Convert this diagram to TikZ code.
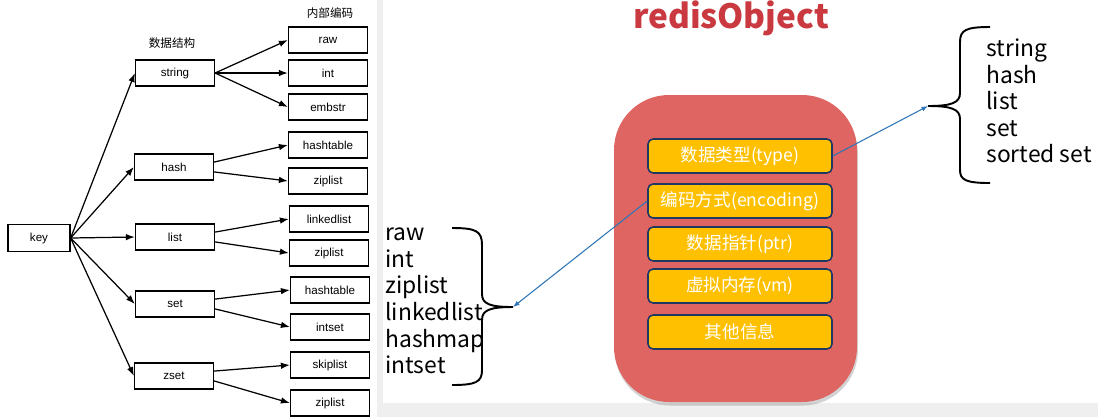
\documentclass[tikz,border=0pt]{standalone}
\usepackage{fontspec}
\setmainfont{Liberation Sans}
\newfontfamily\cjk{Noto Sans CJK SC}
\usepackage{xcolor}
\usepackage{tikz}
\usetikzlibrary{arrows.meta, shadows}

\definecolor{objred}{HTML}{DE6562}
\definecolor{titlered}{HTML}{C9393F}
\definecolor{fieldyel}{HTML}{FFC000}
\definecolor{fieldline}{HTML}{203864}
\definecolor{ptrblue}{HTML}{2E75B6}
\definecolor{edgegray}{HTML}{EFEFEF}

\tikzset{
    dsbox/.style={draw, line width=0.7pt, minimum width=1.58cm, minimum height=0.52cm, inner sep=0pt, font=\fontsize{6.6}{8}\selectfont},
    field/.style={draw=fieldline, fill=fieldyel, line width=0.9pt, rounded corners=0.1cm, minimum width=3.68cm, minimum height=0.68cm, inner sep=0pt, text=white, font=\cjk\fontsize{10}{12}\selectfont},
    blist/.style={anchor=west, align=left, inner sep=0pt, font=\cjk\fontsize{13}{15.1}\selectfont},
    brace/.style={line width=1.1pt},
}

\begin{document}
\begin{tikzpicture}[x=0.02cm, y=-0.02cm, >={Latex[length=1.8mm, width=1.3mm]}]
    % panels
    \fill[edgegray] (0, 0) rectangle (1098, 417);
    \fill[white] (0, 0) rectangle (377, 417);
    \fill[white] (383, 0) rectangle (1098, 403);
    \useasboundingbox (0, 0) rectangle (1098, 417);

    % left: data structures and encodings
    \node[font=\cjk\fontsize{6.6}{8}\selectfont] at (172, 43) (dslabel) {数据结构};
    \node[font=\cjk\fontsize{6.6}{8}\selectfont] at (330, 13) (enclabel) {内部编码};

    \node[dsbox, minimum width=1.24cm, minimum height=0.54cm] at (39, 238) (key) {key};

    \node[dsbox] at (175, 73) (str) {string};
    \node[dsbox] at (174, 167) (hsh) {hash};
    \node[dsbox] at (175, 237) (lst) {list};
    \node[dsbox] at (175, 304) (st) {set};
    \node[dsbox] at (174, 376) (zst) {zset};

    \node[dsbox] at (328, 40) (str1) {raw};
    \node[dsbox] at (328, 73) (str2) {int};
    \node[dsbox] at (328, 107) (str3) {embstr};
    \node[dsbox] at (328, 145) (hsh1) {hashtable};
    \node[dsbox] at (328, 181) (hsh2) {ziplist};
    \node[dsbox] at (329, 219) (lst1) {linkedlist};
    \node[dsbox] at (329, 253) (lst2) {ziplist};
    \node[dsbox] at (330, 290) (st1) {hashtable};
    \node[dsbox] at (330, 327) (st2) {intset};
    \node[dsbox] at (330, 365) (zst1) {skiplist};
    \node[dsbox] at (330, 403) (zst2) {ziplist};

    \draw[->, line width=0.7pt] (key.east) -- (str.west);
    \draw[->, line width=0.7pt] (key.east) -- (hsh.west);
    \draw[->, line width=0.7pt] (key.east) -- (lst.west);
    \draw[->, line width=0.7pt] (key.east) -- (st.west);
    \draw[->, line width=0.7pt] (key.east) -- (zst.west);

    \draw[->, line width=0.7pt] (str.east) -- (str1.west);
    \draw[->, line width=0.7pt] (str.east) -- (str2.west);
    \draw[->, line width=0.7pt] (str.east) -- (str3.west);
    \draw[->, line width=0.7pt] (hsh.7) -- (hsh1.west);
    \draw[->, line width=0.7pt] (hsh.-7) -- (hsh2.west);
    \draw[->, line width=0.7pt] (lst.7) -- (lst1.west);
    \draw[->, line width=0.7pt] (lst.-7) -- (lst2.west);
    \draw[->, line width=0.7pt] (st.7) -- (st1.west);
    \draw[->, line width=0.7pt] (st.-7) -- (st2.west);
    \draw[->, line width=0.7pt] (zst.7) -- (zst1.west);
    \draw[->, line width=0.7pt] (zst.-7) -- (zst2.west);

    % right: redisObject
    \node[text=titlered, font=\cjk\bfseries\fontsize{19}{22}\selectfont] at (731, 18) (title) {redisObject};
    \fill[objred, rounded corners=1.1cm, drop shadow={opacity=0.35, shadow xshift=0.5pt, shadow yshift=-2pt}] (614, 95) rectangle (857, 402);

    \node[field] at (740, 156) (typ) {数据类型(type)};
    \node[field] at (740, 201) (enc) {编码方式(encoding)};
    \node[field] at (740, 244) (ptr) {数据指针(ptr)};
    \node[field] at (740, 286) (vm) {虚拟内存(vm)};
    \node[field] at (740, 332) (oth) {其他信息};

    % braces
    \coordinate (enctip) at (513, 307);
    \coordinate (typtip) at (928, 106);
    \draw[brace] (452, 228) .. controls (476, 228) and (482, 231) .. (482, 245) -- (482, 294)
        .. controls (482, 304) and (490, 307) .. (enctip)
        .. controls (490, 307) and (482, 310) .. (482, 320) -- (482, 370)
        .. controls (482, 382) and (476, 385) .. (452, 385);
    \draw[brace] (990, 27) .. controls (966, 27) and (960, 30) .. (960, 42) -- (960, 93)
        .. controls (960, 103) and (951, 106) .. (typtip)
        .. controls (951, 106) and (960, 109) .. (960, 119) -- (960, 170)
        .. controls (960, 180) and (966, 183) .. (990, 183);

    \node[blist] at (385, 301) (enclist) {raw\\int\\ziplist\\linkedlist\\hashmap\\intset};
    \node[blist] at (986, 101) (typlist) {string\\hash\\list\\set\\sorted set};

    \draw[->, ptrblue, line width=0.6pt, >={Latex[length=1.3mm, width=1mm]}] (enc.west) -- (enctip);
    \draw[->, ptrblue, line width=0.6pt, >={Latex[length=1.3mm, width=1mm]}] (typ.east) -- (typtip);
\end{tikzpicture}
\end{document}
